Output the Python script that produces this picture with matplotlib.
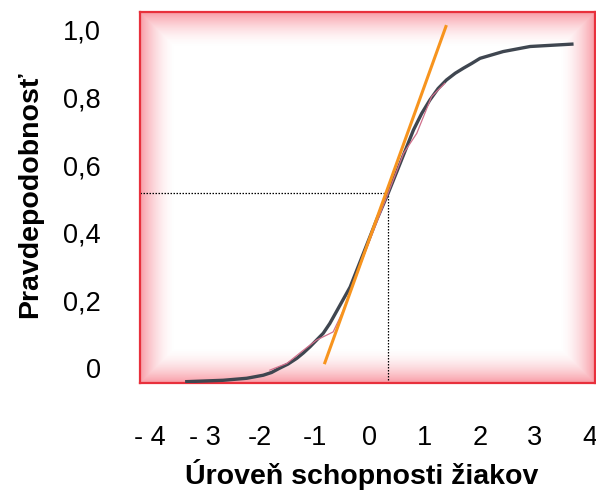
import numpy as np
import matplotlib
matplotlib.use("Agg")
import matplotlib.pyplot as plt

plt.rcParams['font.family'] = ['Liberation Sans', 'DejaVu Sans']

# Item characteristic curve (ability vs. probability)
ability = [-3.33, -2.67, -2.24, -1.94, -1.79, -1.64, -1.49, -1.33, -1.21, -1.09, -0.97,
           -0.85, -0.73, -0.61, -0.36, -0.12, 0.12, 0.33, 0.55, 0.79, 0.94, 1.09,
           1.24, 1.39, 1.55, 1.70, 1.85, 2.00, 2.42, 2.91, 3.67]
probability = [-0.040, -0.036, -0.030, -0.021, -0.013, 0.000, 0.012, 0.029, 0.045, 0.063,
               0.083, 0.103, 0.132, 0.167, 0.240, 0.339, 0.438, 0.517, 0.606, 0.704,
               0.753, 0.793, 0.827, 0.852, 0.872, 0.887, 0.901, 0.916, 0.936, 0.951, 0.958]

# Thin fitted curve
fit_x = [-1.82, -1.51, -1.21, -0.97, -0.67, -0.48, -0.12, 0.33, 0.61, 0.85, 1.12, 1.36]
fit_y = [-0.006, 0.014, 0.053, 0.083, 0.107, 0.172, 0.329, 0.517, 0.635, 0.694, 0.803, 0.842]

# Tangent at the inflection point
tangent_x = [-0.82, 1.38]
tangent_y = [0.016, 1.01]

# Difficulty point
point_x = 0.33
point_y = 0.517

x_ticks = [-4, -3, -2, -1, 0, 1, 2, 3, 4]
x_tick_labels = ["- 4", "- 3", "-2", "-1", "0", "1", "2", "3", "4"]
y_ticks = [0, 0.2, 0.4, 0.6, 0.8, 1.0]
y_tick_labels = ["0", "0,2", "0,4", "0,6", "0,8", "1,0"]

W, H = 596, 491
fig = plt.figure(figsize=(W / 100, H / 100), dpi=100)
left, right, top, bottom = 140, 595, 12, 383
ax = fig.add_axes([left / W, (H - bottom) / H, (right - left) / W, (bottom - top) / H])

xlim = (-4.18, 4.09)
ylim = (-0.044, 1.053)
ax.set_xlim(*xlim)
ax.set_ylim(*ylim)

# Soft red glow along the frame edges
pw, ph = right - left, bottom - top
gx = np.arange(pw) + 0.5
gy = np.arange(ph) + 0.5
dx = np.minimum(gx, pw - gx)[None, :]
dy = np.minimum(gy, ph - gy)[:, None]
d = np.minimum(dx, dy)
alpha = np.clip(1 - d / 36.0, 0, 1) ** 1.8 * 0.52
img = np.zeros((ph, pw, 4))
img[..., 0] = 0.95
img[..., 1] = 0.24
img[..., 2] = 0.32
img[..., 3] = alpha
ax.imshow(img, extent=(xlim[0], xlim[1], ylim[0], ylim[1]), aspect='auto',
          zorder=0, interpolation='bilinear')

for s in ax.spines.values():
    s.set_color('#e8303c')
    s.set_linewidth(1.6)

ax.plot([xlim[0], point_x], [point_y, point_y], color='black', lw=0.9,
        ls=(0, (1.2, 1.2)), zorder=2)
ax.plot([point_x, point_x], [ylim[0], point_y], color='black', lw=0.9,
        ls=(0, (1.2, 1.2)), zorder=2)

ax.plot(ability, probability, color='#3f4650', lw=2.4, zorder=3,
        solid_joinstyle='round')
ax.plot(fit_x, fit_y, color='#d0708c', lw=0.9, zorder=4)
ax.plot(tangent_x, tangent_y, color='#f7941e', lw=2.2, zorder=5)

ax.set_xticks(x_ticks)
ax.set_xticklabels(x_tick_labels)
ax.set_yticks(y_ticks)
ax.set_yticklabels(y_tick_labels)
ax.tick_params(axis='both', length=0, labelsize=19.5)
ax.tick_params(axis='x', pad=30)
ax.tick_params(axis='y', pad=28)

fig.text(362 / W, 1 - 475 / H, "Úroveň schopnosti žiakov", ha='center', va='center',
         fontsize=20.5, fontweight='bold')
fig.text(30 / W, 1 - 195 / H, "Pravdepodobnosť", ha='center', va='center',
         rotation=90, fontsize=20.5, fontweight='bold')

fig.savefig("out.png", dpi=100)
